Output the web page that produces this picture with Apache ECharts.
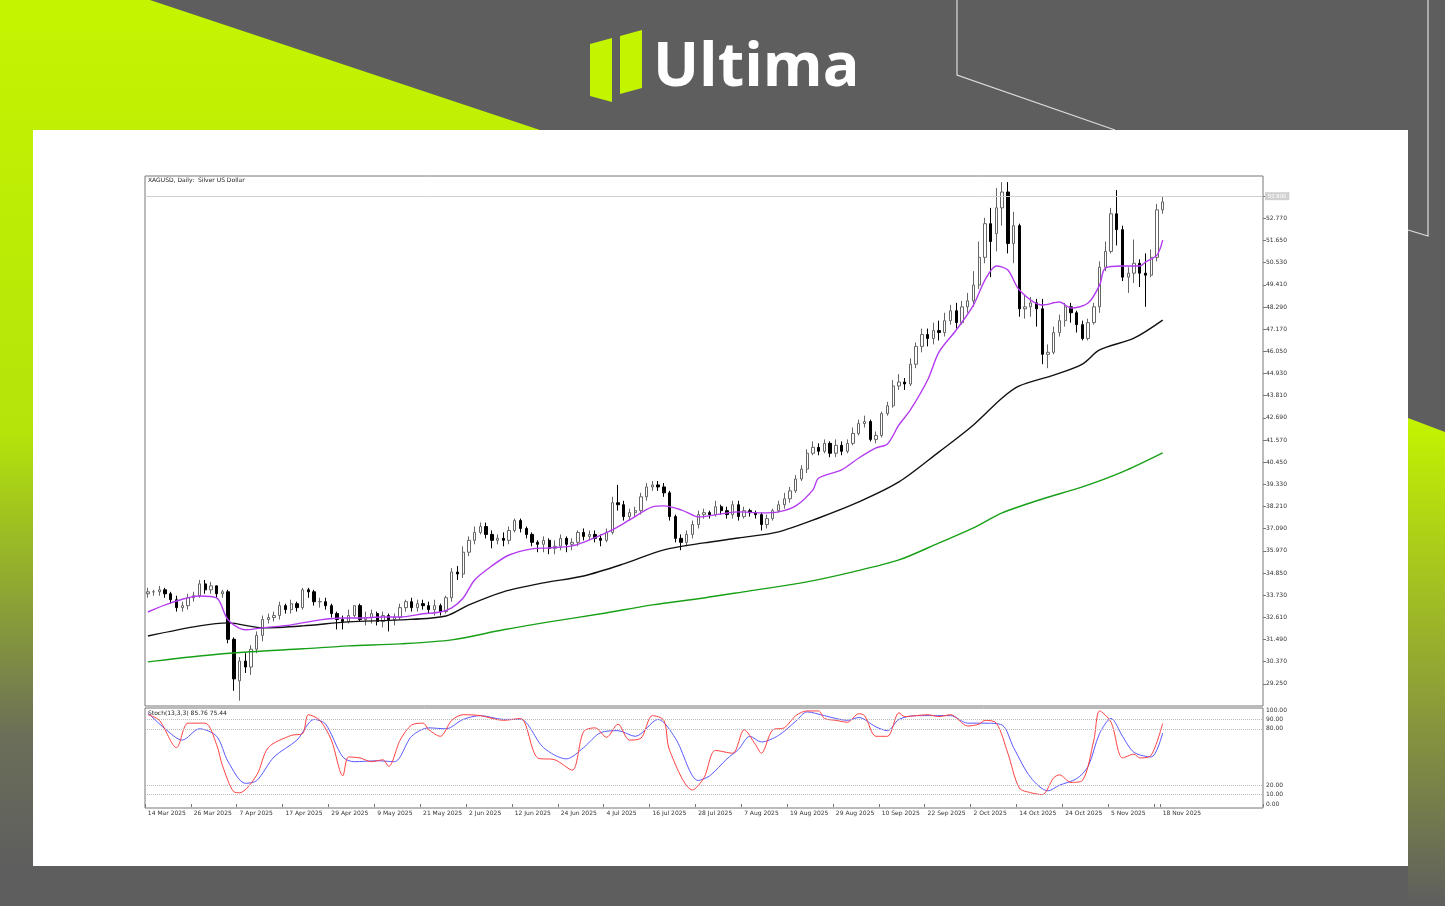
<!DOCTYPE html>
<html>
<head>
<meta charset="utf-8">
<title>XAGUSD Daily</title>
<script src="https://cdn.jsdelivr.net/npm/echarts@6/dist/echarts.min.js"></script>
<style>html,body{margin:0;padding:0;background:#5e5e5e;}</style>
</head>
<body>
<div id="main" style="width:1445px;height:906px"></div>
<script>
// daily candles [open, close, low, high]
var candles = [
[33.8,33.9,33.6,34.1],[33.9,33.9,33.7,34.0],[33.9,34.0,33.7,34.2],[34.0,33.8,33.6,34.1],[33.8,33.5,33.3,33.9],
[33.5,33.1,32.9,33.7],[33.1,33.2,32.9,33.4],[33.2,33.6,33.0,33.8],[33.6,33.7,33.4,33.9],[33.7,34.3,33.6,34.5],
[34.3,34.0,33.8,34.5],[34.0,34.2,33.8,34.4],[34.2,33.8,33.6,34.1],[33.8,33.9,33.6,34.0],[33.9,31.5,31.3,34.0],
[31.5,29.5,28.9,31.6],[29.4,30.4,28.4,30.6],[30.4,30.1,29.8,30.8],[30.1,31.0,29.7,31.2],[31.0,31.7,30.8,31.9],
[31.7,32.5,31.4,32.7],[32.5,32.6,32.3,32.8],[32.6,32.7,32.4,32.9],[32.7,33.2,32.5,33.4],[33.2,33.0,32.8,33.3],
[33.0,33.3,32.8,33.5],[33.3,33.1,32.9,33.4],[33.1,34.0,33.0,34.1],[34.0,33.9,33.6,34.1],[33.9,33.4,33.2,34.0],
[33.4,33.4,33.1,33.6],[33.4,33.2,33.0,33.6],[33.2,32.8,32.6,33.3],[32.8,32.5,32.0,32.9],[32.5,32.4,32.0,32.7],
[32.4,32.7,32.3,33.0],[32.7,33.2,32.6,33.2],[33.2,32.5,32.4,33.3],[32.5,32.6,32.2,32.9],[32.6,32.8,32.3,33.0],
[32.8,32.4,32.2,32.9],[32.4,32.7,32.1,32.9],[32.7,32.5,31.9,32.8],[32.5,32.6,32.2,32.8],[32.6,33.1,32.5,33.3],
[33.1,33.4,32.9,33.5],[33.4,33.1,32.9,33.6],[33.1,33.3,32.9,33.5],[33.3,33.2,33.0,33.5],[33.2,33.0,32.8,33.4],
[33.0,33.2,32.7,33.5],[33.2,32.9,32.7,33.3],[32.9,33.6,32.8,33.7],[33.6,34.9,33.4,35.1],[34.9,34.8,34.5,35.2],
[34.8,35.9,34.6,36.2],[35.9,36.5,35.7,36.7],[36.5,36.9,36.3,37.2],[36.9,37.2,36.8,37.4],[37.2,36.8,36.6,37.4],
[36.8,36.5,36.1,37.0],[36.5,36.6,36.3,36.8],[36.6,36.5,36.2,36.9],[36.5,37.0,36.3,37.2],[37.0,37.5,36.9,37.6],
[37.5,37.1,36.9,37.6],[37.1,36.8,36.6,37.2],[36.8,36.4,36.2,36.9],[36.4,36.3,35.9,36.5],[36.3,36.5,35.9,36.7],
[36.5,36.1,35.8,36.6],[36.1,36.2,35.8,36.5],[36.2,36.6,36.0,36.8],[36.6,36.3,35.9,36.7],[36.3,36.4,36.0,36.6],
[36.4,36.9,36.2,37.0],[36.9,36.7,36.5,37.1],[36.7,36.8,36.5,37.0],[36.8,36.6,36.4,37.0],[36.6,36.5,36.2,36.8],
[36.5,36.9,36.4,37.1],[36.9,38.4,36.8,38.7],[38.4,38.3,38.0,39.3],[38.3,37.7,37.5,38.5],[37.7,37.9,37.5,38.1],
[37.9,38.0,37.7,38.2],[38.0,38.7,37.8,38.9],[38.7,39.2,38.5,39.4],[39.2,39.3,39.0,39.5],[39.3,39.2,39.0,39.5],
[39.2,38.9,38.7,39.4],[38.9,37.7,37.5,39.0],[37.7,36.6,36.4,37.8],[36.6,36.4,36.0,36.8],[36.4,36.8,36.2,37.0],
[36.8,37.3,36.6,37.5],[37.3,37.8,37.1,38.0],[37.8,37.9,37.6,38.1],[37.9,37.8,37.6,38.0],[37.8,38.2,37.7,38.5],
[38.2,38.0,37.8,38.3],[38.0,37.8,37.6,38.2],[37.8,38.3,37.6,38.5],[38.3,37.7,37.5,38.5],[37.7,38.0,37.6,38.2],
[38.0,37.9,37.7,38.1],[37.9,37.8,37.6,38.0],[37.8,37.3,37.0,37.9],[37.3,37.6,37.1,37.8],[37.6,38.0,37.5,38.1],
[38.0,38.3,37.9,38.5],[38.3,38.6,38.1,38.9],[38.6,39.0,38.4,39.2],[39.0,39.6,38.9,39.8],[39.6,40.1,39.5,40.3],
[40.1,40.9,39.9,41.1],[40.9,41.2,40.8,41.5],[41.2,41.0,40.8,41.4],[41.0,41.4,40.9,41.6],[41.4,40.9,40.7,41.5],
[40.9,41.3,40.7,41.6],[41.3,41.0,40.8,41.5],[41.0,41.4,40.9,41.6],[41.4,41.9,41.3,42.2],[41.9,42.4,41.8,42.6],
[42.4,42.5,42.2,42.8],[42.5,41.6,41.5,42.6],[41.6,41.8,41.4,42.0],[41.8,42.9,41.7,43.0],[42.9,43.3,42.8,43.5],
[43.3,44.3,43.2,44.6],[44.3,44.5,44.1,44.9],[44.5,44.4,44.1,44.7],[44.4,45.4,44.3,45.7],[45.4,46.3,45.2,46.5],
[46.3,46.9,46.0,47.2],[46.9,46.7,46.3,47.2],[46.7,47.1,46.4,47.5],[47.1,47.0,46.6,47.6],[47.0,47.6,46.8,48.0],
[47.6,48.1,47.4,48.4],[48.1,47.5,47.2,48.5],[47.5,48.3,47.4,48.6],[48.3,48.6,48.0,49.0],[48.6,49.4,48.3,50.1],
[49.4,50.8,49.2,51.6],[50.8,52.5,50.5,52.8],[52.5,51.6,49.8,53.3],[52.0,53.3,51.1,54.3],[53.3,54.1,52.4,54.6],
[54.1,51.5,51.0,54.6],[51.5,52.4,50.5,53.1],[52.4,48.2,47.8,52.5],[48.2,48.3,47.7,48.9],[48.3,48.5,47.8,48.8],
[48.5,48.2,47.3,48.7],[48.2,45.9,45.4,48.7],[45.9,46.0,45.2,46.4],[46.0,47.0,45.9,47.3],[47.0,47.6,46.8,47.9],
[47.6,48.3,47.3,48.5],[48.3,48.0,47.5,48.5],[48.0,47.4,47.0,48.1],[47.4,46.7,46.6,47.6],[46.7,47.5,46.6,47.7],
[47.5,48.3,47.4,48.5],[48.3,50.3,48.0,50.6],[50.3,51.1,50.1,51.6],[51.1,53.0,51.0,53.3],[53.0,52.2,51.4,54.2],
[52.2,49.8,49.6,52.4],[49.8,50.0,49.0,50.3],[50.0,50.5,49.5,51.7],[50.5,50.0,49.3,50.7],[50.0,49.9,48.3,51.0],
[49.9,50.8,49.8,51.2],[50.8,53.2,50.6,53.5],[53.2,53.6,53.0,53.9]
];
// moving averages, [bar index, value]
var ma20 = [[0,32.88],[4,33.34],[9,33.69],[12,33.59],[14,32.48],[17,31.98],[20,32.08],[25,32.23],[30,32.48],[34,32.58],[37,32.58],[41,32.63],[44,32.63],[48,32.79],[51,32.88],[53,33.09],[55,33.59],[57,34.5],[60,35.21],[63,35.76],[67,36.07],[70,36.12],[74,36.22],[77,36.52],[81,37.03],[84,37.53],[88,38.19],[90,38.24],[93,38.04],[95,37.78],[96,37.68],[100,37.84],[103,37.94],[107,37.89],[110,37.94],[113,38.24],[116,39.05],[117,39.65],[121,40.06],[124,40.66],[127,41.17],[129,41.37],[131,42.33],[133,43.09],[136,44.6],[138,46.02],[141,47.13],[144,48.39],[146,49.65],[148,50.36],[150,50.16],[152,49.15],[156,48.39],[159,48.54],[161,48.24],[164,48.49],[166,49.4],[167,50.26],[170,50.36],[173,50.36],[174,50.56],[176,50.91],[177,51.67]];
var ma50 = [[0,31.67],[9,32.18],[14,32.33],[20,32.08],[27,32.18],[35,32.38],[44,32.48],[52,32.68],[56,33.24],[62,33.9],[69,34.35],[76,34.7],[83,35.31],[90,36.02],[97,36.37],[103,36.62],[110,36.93],[117,37.63],[124,38.44],[131,39.45],[138,40.97],[144,42.33],[149,43.69],[152,44.3],[158,44.85],[163,45.41],[166,46.12],[172,46.72],[177,47.63]];
var ma200 = [[0,30.36],[9,30.66],[18,30.87],[27,31.02],[35,31.17],[44,31.27],[53,31.47],[62,31.98],[70,32.38],[79,32.79],[88,33.24],[97,33.59],[105,33.95],[114,34.35],[123,34.91],[131,35.51],[138,36.37],[144,37.13],[149,37.89],[156,38.59],[163,39.2],[170,39.96],[177,40.92]];
// stochastic %K (red) and %D (blue)
var stochK = [[0,95],[2,89],[5,60],[7,86],[10,86],[12,63],[13,41],[15,13],[16,12],[19,31],[21,60],[25,73],[27,75],[28,95],[30,89],[32,68],[34,30],[35,50],[37,49],[39,45],[41,47],[42,40],[44,68],[46,84],[48,86],[49,79],[51,72],[53,89],[55,95],[58,94],[62,89],[65,91],[68,49],[71,47],[74,36],[76,77],[78,81],[80,71],[82,85],[84,68],[86,70],[88,94],[90,89],[91,57],[95,15],[97,28],[99,57],[102,54],[104,79],[106,63],[107,54],[109,79],[111,81],[113,94],[115,99],[117,99],[118,91],[120,89],[122,87],[124,96],[125,94],[127,72],[129,72],[131,97],[132,93],[134,94],[136,95],[138,93],[140,95],[143,83],[145,85],[146,89],[148,86],[150,54],[152,17],[154,12],[156,10],[158,28],[159,31],[161,23],[163,25],[165,68],[166,99],[168,87],[170,49],[172,53],[173,49],[175,52],[177,85.76]];
var stochD = [[0,97],[3,80],[6,68],[9,80],[12,72],[14,45],[17,22],[19,25],[22,50],[26,68],[29,90],[31,85],[34,50],[36,45],[40,46],[43,45],[46,72],[49,81],[52,80],[55,90],[58,94],[62,90],[65,90],[69,60],[73,48],[76,60],[79,76],[82,78],[85,72],[89,90],[92,70],[96,25],[98,30],[101,48],[103,58],[105,72],[107,66],[110,73],[113,88],[115,98],[118,94],[122,89],[124,92],[127,82],[129,78],[131,90],[134,94],[137,94],[140,94],[143,86],[146,86],[149,84],[151,60],[154,28],[157,14],[159,20],[162,27],[164,40],[166,75],[168,91],[170,72],[172,55],[175,50],[177,75.44]];
var bidPrice = 53.89;
var priceMin = 28.13, priceMax = 54.91, priceStep = 1.12;
var emptyBars = 17; // free space right of the last candle

var months = ['Jan','Feb','Mar','Apr','May','Jun','Jul','Aug','Sep','Oct','Nov','Dec'];
var dates = [];
var d = new Date(2025, 2, 14);
while (dates.length < candles.length + emptyBars) {
  if (d.getDay() != 0 && d.getDay() != 6) dates.push(d.getDate() + ' ' + months[d.getMonth()] + ' ' + d.getFullYear());
  d.setDate(d.getDate() + 1);
}
var lastDate = dates[candles.length - 1];

var small = {fontFamily: 'DejaVu Sans', fontSize: 6, color: '#333'};
var lime = new echarts.graphic.LinearGradient(0, 0, 0, 1, [
  {offset: 0, color: '#c4f500'}, {offset: 0.5, color: '#b4e40a'}, {offset: 0.85, color: '#6b6e58'}, {offset: 1, color: '#5e5e5e'}]);
var limeR = new echarts.graphic.LinearGradient(0, 0, 0, 1, [
  {offset: 0, color: '#c4f500'}, {offset: 0.6, color: '#8a9a3a'}, {offset: 1, color: '#5e5e5e'}]);

var chart = echarts.init(document.getElementById('main'));
chart.setOption({
  backgroundColor: '#5e5e5e',
  animation: false,
  graphic: [
    {type: 'polygon', z: -10, shape: {points: [[0,0],[150,0],[540,130],[33,130],[33,866],[0,866]]}, style: {fill: lime}},
    {type: 'polygon', z: -10, shape: {points: [[1408,418],[1445,432],[1445,906],[1408,906]]}, style: {fill: limeR}},
    {type: 'polyline', z: -9, shape: {points: [[957,0],[957,75],[1115,130]]}, style: {stroke: '#ddd', lineWidth: 1.2}},
    {type: 'polyline', z: -9, shape: {points: [[1428,0],[1428,236],[1408,230]]}, style: {stroke: '#ddd', lineWidth: 1.2}},
    {type: 'rect', z: -8, shape: {x: 33, y: 130, width: 1375, height: 736}, style: {fill: '#fff'}},
    {type: 'polygon', shape: {points: [[590,44],[612,38],[612,102],[590,96]]}, style: {fill: '#c4f500'}},
    {type: 'polygon', shape: {points: [[620,36],[642,30],[642,88],[620,94]]}, style: {fill: '#c4f500'}},
    {type: 'text', left: 653, top: 38, style: {text: 'Ultima', fill: '#fff', font: 'bold 61px "Open Sans"'}},
    {type: 'rect', shape: {x: 145, y: 176, width: 1118, height: 530}, style: {fill: 'none', stroke: '#777', lineWidth: 1}},
    {type: 'rect', shape: {x: 145, y: 708, width: 1118, height: 100}, style: {fill: 'none', stroke: '#777', lineWidth: 1}},
    {type: 'text', left: 148, top: 177, style: {text: 'XAGUSD, Daily:  Silver US Dollar', fill: '#222', font: '6px "DejaVu Sans"'}},
    {type: 'text', left: 148, top: 710, style: {text: 'Stoch(13,3,3) 85.76 75.44', fill: '#222', font: '6px "DejaVu Sans"'}}
  ],
  grid: [
    {left: 145, right: 182, top: 176, height: 530},
    {left: 145, right: 182, top: 710, height: 94}
  ],
  xAxis: [
    {type: 'category', gridIndex: 0, data: dates, boundaryGap: true,
     axisLine: {show: false}, axisTick: {show: false}, axisLabel: {show: false}},
    {type: 'category', gridIndex: 1, data: dates, boundaryGap: true, position: 'bottom',
     axisLine: {show: false},
     axisTick: {show: true, length: 3, lineStyle: {color: '#777'},
       interval: function (i) { return i % 8 == 0 && i < candles.length || i == candles.length - 1; }},
     axisLabel: Object.assign({margin: 6, align: 'left',
       interval: function (i) { return i % 8 == 0 && i < candles.length - 4 || i == candles.length - 1; }}, small)}
  ],
  yAxis: [
    {type: 'value', gridIndex: 0, position: 'right', min: priceMin, max: priceMax, interval: priceStep,
     axisLine: {show: false}, axisTick: {show: true, length: 3, lineStyle: {color: '#777'}}, splitLine: {show: false},
     axisLabel: Object.assign({showMinLabel: false, showMaxLabel: false, margin: 3,
       formatter: function (v) { return v.toFixed(3); }}, small)},
    {type: 'value', gridIndex: 1, position: 'right', min: 0, max: 100, interval: 10,
     axisLine: {show: false}, axisTick: {show: false}, splitLine: {show: false},
     axisLabel: Object.assign({margin: 3, formatter: function (v) {
       return [0, 10, 20, 80, 90, 100].indexOf(v) >= 0 ? v.toFixed(2) : ''; }}, small)}
  ],
  series: [
    {type: 'candlestick', xAxisIndex: 0, yAxisIndex: 0, data: candles, barMaxWidth: 4,
     itemStyle: {color: '#fff', color0: '#000', borderColor: '#666', borderColor0: '#000', borderWidth: 1},
     markLine: {symbol: 'none', silent: true, data: [{yAxis: bidPrice}],
       lineStyle: {color: '#d0d0d0', type: 'solid', width: 1},
       label: {position: 'end', formatter: bidPrice.toFixed(3), backgroundColor: '#d0d0d0', color: '#fff',
         fontSize: 6, padding: [1, 3], distance: 2}}},
    {type: 'line', xAxisIndex: 0, yAxisIndex: 0, data: ma200, showSymbol: false, smooth: 0.3, lineStyle: {color: '#18a018', width: 1.4}},
    {type: 'line', xAxisIndex: 0, yAxisIndex: 0, data: ma50, showSymbol: false, smooth: 0.3, lineStyle: {color: '#111', width: 1.4}},
    {type: 'line', xAxisIndex: 0, yAxisIndex: 0, data: ma20, showSymbol: false, smooth: 0.3, lineStyle: {color: '#b43cf0', width: 1.4}},
    {type: 'line', xAxisIndex: 1, yAxisIndex: 1, data: stochD, showSymbol: false, smooth: 0.3, lineStyle: {color: '#5a5aff', width: 1},
     markLine: {symbol: 'none', silent: true, label: {show: false},
       lineStyle: {color: '#bbb', type: 'dotted', width: 1},
       data: [{yAxis: 10}, {yAxis: 20}, {yAxis: 80}, {yAxis: 90}]}},
    {type: 'line', xAxisIndex: 1, yAxisIndex: 1, data: stochK, showSymbol: false, smooth: 0.3, lineStyle: {color: '#ff4040', width: 1}}
  ]
});
</script>
</body>
</html>
